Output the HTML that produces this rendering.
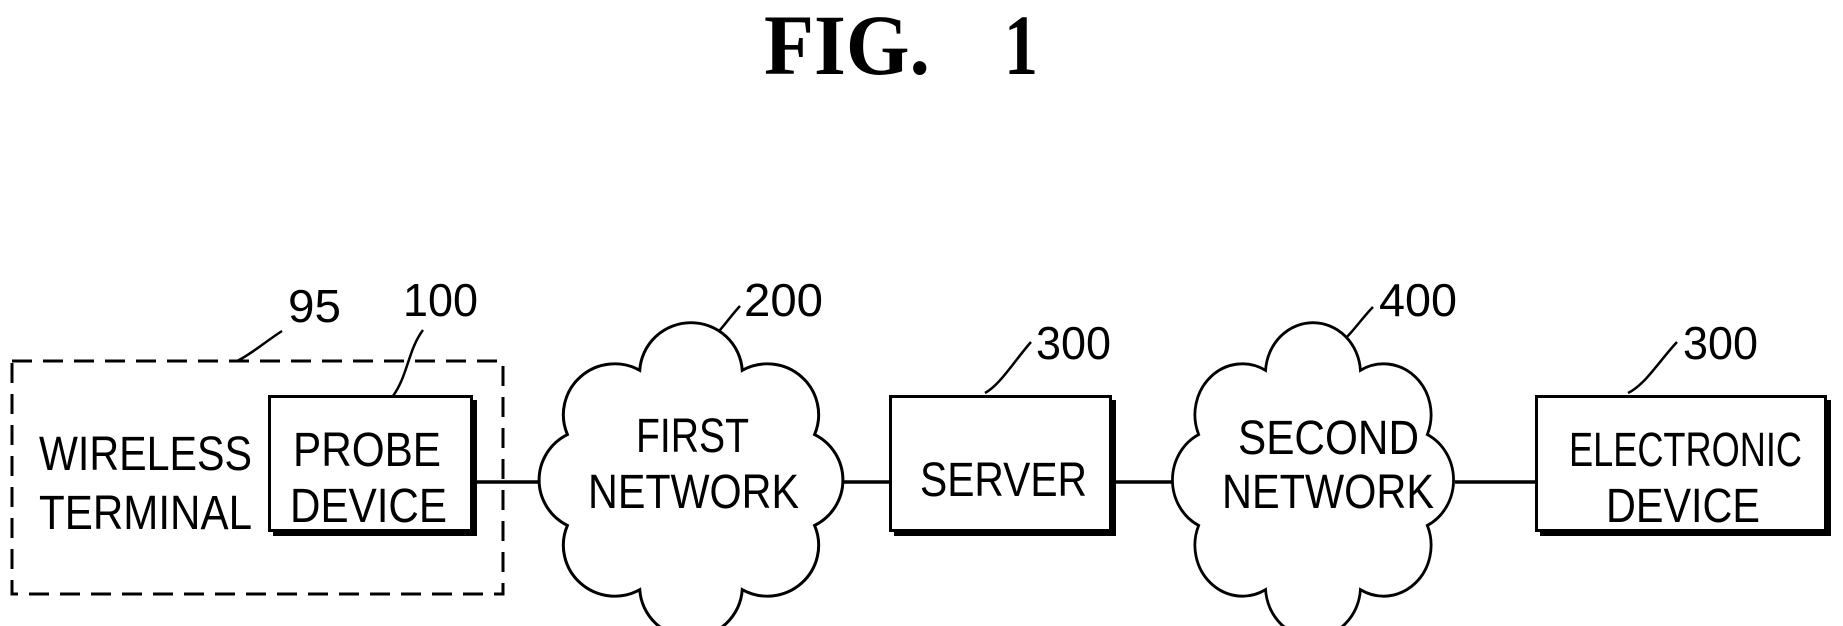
<!DOCTYPE html>
<html><head><meta charset="utf-8"><style>
html,body{margin:0;padding:0;background:#fff}
svg{display:block}
.t{font-family:"Liberation Sans",sans-serif;font-size:48px;fill:#000}
.n{font-family:"Liberation Sans",sans-serif;font-size:46px;fill:#000}
.f{font-family:"Liberation Serif",serif;font-weight:bold;font-size:86px;fill:#000}
</style></head><body>
<svg width="1843" height="626" viewBox="0 0 1843 626" xmlns="http://www.w3.org/2000/svg">
<text class="f" x="764" y="74" textLength="166" lengthAdjust="spacingAndGlyphs">FIG.</text>
<text class="f" x="1004" y="74" textLength="34" lengthAdjust="spacingAndGlyphs">1</text>

<g fill="none" stroke="#000" stroke-width="2.5">
<rect x="12" y="361" width="491" height="233" stroke-dasharray="20 11" stroke-width="3"/>
<path d="M282 331 C265 342 250 355 237 361"/>
<path d="M423 330 C408 350 408 375 393 396"/>
<path d="M740 306 C725 322 712 345 696 349"/>
<path d="M1031 342 C1015 360 1000 385 985 393"/>
<path d="M1373 307 C1358 322 1345 345 1329 349"/>
<path d="M1677 342 C1660 360 1645 385 1628 393"/>
</g>

<g stroke="#000" stroke-width="3.5">
<line x1="474" y1="482" x2="540" y2="482"/>
<line x1="842" y1="482" x2="890" y2="482"/>
<line x1="1113" y1="482" x2="1172" y2="482"/>
<line x1="1455" y1="482" x2="1536" y2="482"/>
</g>

<g fill="#000">
<rect x="273" y="400" width="204" height="136"/>
<rect x="894" y="400" width="222" height="136"/>
<rect x="1540" y="400" width="291" height="136"/>
</g>
<g fill="#fff" stroke="#000" stroke-width="3">
<rect x="269.5" y="396.5" width="202" height="134"/>
<rect x="890.5" y="396.5" width="220" height="134"/>
<rect x="1536.5" y="396.5" width="289" height="134"/>
</g>

<g transform="translate(691,480) scale(1.07,1.06) translate(-691,-480)">
<path fill="#fff" stroke="#000" stroke-width="2.8" d="M806.5 522.9 A48 48 0 0 1 738.9 583.5 A48 48 0 0 1 643.1 583.5 A48 48 0 0 1 575.5 522.9 A48 48 0 0 1 575.5 437.1 A48 48 0 0 1 643.1 376.5 A48 48 0 0 1 738.9 376.5 A48 48 0 0 1 806.5 437.1 A48 48 0 0 1 806.5 522.9 Z"/>
</g>
<g transform="translate(1313,480) scale(0.99,1.06) translate(-691,-480)">
<path fill="#fff" stroke="#000" stroke-width="2.8" d="M806.5 522.9 A48 48 0 0 1 738.9 583.5 A48 48 0 0 1 643.1 583.5 A48 48 0 0 1 575.5 522.9 A48 48 0 0 1 575.5 437.1 A48 48 0 0 1 643.1 376.5 A48 48 0 0 1 738.9 376.5 A48 48 0 0 1 806.5 437.1 A48 48 0 0 1 806.5 522.9 Z"/>
</g>

<text class="t" x="39" y="470" textLength="213" lengthAdjust="spacingAndGlyphs">WIRELESS</text>
<text class="t" x="39" y="529" textLength="213" lengthAdjust="spacingAndGlyphs">TERMINAL</text>
<text class="t" x="293" y="466" textLength="148" lengthAdjust="spacingAndGlyphs">PROBE</text>
<text class="t" x="290" y="522" textLength="157" lengthAdjust="spacingAndGlyphs">DEVICE</text>
<text class="t" x="636" y="452" textLength="113" lengthAdjust="spacingAndGlyphs">FIRST</text>
<text class="t" x="588" y="508" textLength="211" lengthAdjust="spacingAndGlyphs">NETWORK</text>
<text class="t" x="920" y="496" textLength="167" lengthAdjust="spacingAndGlyphs">SERVER</text>
<text class="t" x="1238" y="454" textLength="181" lengthAdjust="spacingAndGlyphs">SECOND</text>
<text class="t" x="1222" y="508" textLength="212" lengthAdjust="spacingAndGlyphs">NETWORK</text>
<text class="t" x="1569" y="466" textLength="233" lengthAdjust="spacingAndGlyphs">ELECTRONIC</text>
<text class="t" x="1606" y="522" textLength="154" lengthAdjust="spacingAndGlyphs">DEVICE</text>

<text class="n" x="288" y="322" textLength="53" lengthAdjust="spacingAndGlyphs">95</text>
<text class="n" x="403" y="316" textLength="75" lengthAdjust="spacingAndGlyphs">100</text>
<text class="n" x="744" y="316" textLength="79" lengthAdjust="spacingAndGlyphs">200</text>
<text class="n" x="1036" y="359" textLength="75" lengthAdjust="spacingAndGlyphs">300</text>
<text class="n" x="1379" y="316" textLength="78" lengthAdjust="spacingAndGlyphs">400</text>
<text class="n" x="1683" y="359" textLength="75" lengthAdjust="spacingAndGlyphs">300</text>
</svg>
</body></html>
